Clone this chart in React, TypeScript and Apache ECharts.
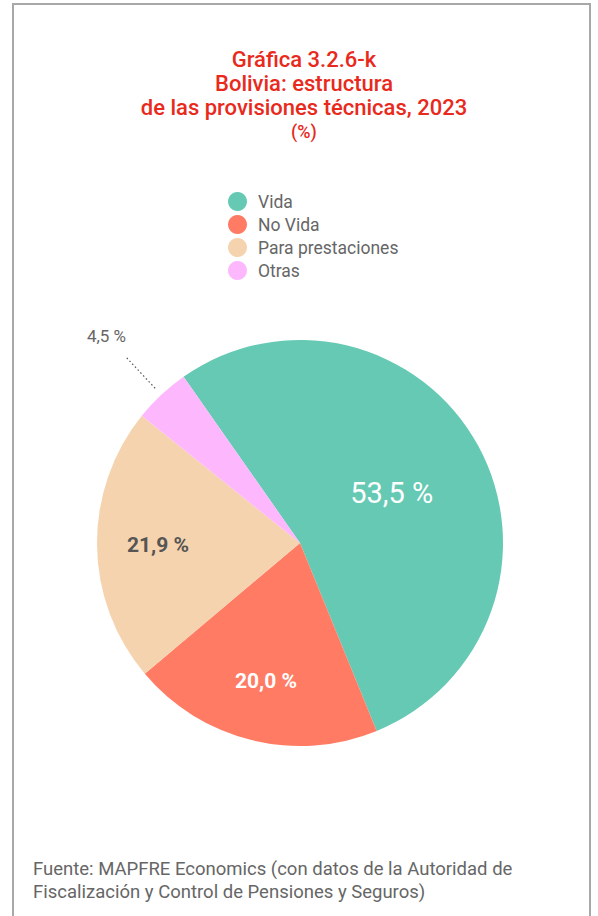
import React, { useEffect, useRef } from "react";
import * as echarts from "echarts";

const categories = ["Vida", "No Vida", "Para prestaciones", "Otras"];
const values = [53.5, 20.0, 21.9, 4.5];
const colors = ["#66C9B4", "#FF7B64", "#F5D3AE", "#FDB8FD"];
const titleLines = ["Gráfica 3.2.6-k", "Bolivia: estructura", "de las provisiones técnicas, 2023"];
const unitText = "(%)";
const sourceLines = [
  "Fuente: MAPFRE Economics (con datos de la Autoridad de",
  "Fiscalización y Control de Pensiones y Seguros)",
];

const fmt = (v: number) => v.toFixed(1).replace(".", ",") + " %";
const FONT = "Roboto";

export default function App() {
  const ref = useRef<HTMLDivElement>(null);
  useEffect(() => {
    document.body.style.margin = "0";
    const chart = echarts.init(ref.current!, null, { renderer: "svg" });

    const mainData = categories.map((name, i) => ({
      name,
      value: values[i],
      itemStyle: { color: colors[i] },
      label:
        i === 0
          ? { show: true, position: "inside", color: "#fff", fontSize: 29, fontFamily: FONT, formatter: () => fmt(values[i]) }
          : { show: false },
    }));

    const overlayData = categories.map((name, i) => {
      let label: any = { show: false };
      let labelLine: any = { show: false };
      if (i === 1) {
        label = { show: true, position: "inside", color: "#fff", fontSize: 21, fontWeight: "bold", fontFamily: FONT, formatter: () => fmt(values[i]) };
      } else if (i === 2) {
        label = { show: true, position: "inside", color: "#555", fontSize: 21, fontWeight: "bold", fontFamily: FONT, formatter: () => fmt(values[i]) };
      } else if (i === 3) {
        label = {
          show: true,
          position: "outside",
          color: "#666",
          fontSize: 17,
          fontFamily: FONT,
          lineHeight: 40,
          formatter: () => fmt(values[i]) + "\n",
          distanceToLabelLine: -1,
        };
        labelLine = { show: true, length: 44, length2: 0, lineStyle: { color: "#555", type: [1.5, 2.5], width: 1.2 } };
      }
      return { name, value: values[i], label, labelLine, itemStyle: { color: "rgba(0,0,0,0)" } };
    });

    chart.setOption({
      animation: false,
      title: {
        text: titleLines.join("\n"),
        subtext: unitText,
        left: 299,
        top: 42,
        textAlign: "center",
        itemGap: 1,
        textStyle: { color: "#E8291C", fontSize: 22, fontWeight: 500, fontFamily: FONT, lineHeight: 24 },
        subtextStyle: { color: "#E8291C", fontSize: 18, fontWeight: 500, fontFamily: FONT, lineHeight: 22 },
      },
      legend: {
        orient: "vertical",
        left: 228,
        top: 192,
        padding: 0,
        icon: "circle",
        itemWidth: 19,
        itemHeight: 19,
        itemGap: 4,
        selectedMode: false,
        data: categories,
        textStyle: { color: "#666", fontSize: 17.5, fontFamily: FONT, padding: [0, 0, 0, 6] },
      },
      graphic: [
        {
          type: "rect",
          shape: { x: 13, y: 4, width: 577, height: 940 },
          style: { fill: "none", stroke: "#a8a8a8", lineWidth: 2 },
          silent: true,
        },
        {
          type: "text",
          left: 33,
          top: 857,
          style: {
            text: sourceLines.join("\n"),
            fill: "#666",
            fontSize: 18.5,
            fontFamily: FONT,
            lineHeight: 23,
          },
        },
      ],
      series: [
        {
          type: "pie",
          center: [300, 543],
          radius: [0, 203],
          startAngle: 125,
          clockwise: true,
          avoidLabelOverlap: false,
          labelLine: { show: false },
          emphasis: { disabled: true },
          data: mainData,
        },
        {
          type: "pie",
          center: [300, 543],
          radius: [66, 212],
          startAngle: 125,
          clockwise: true,
          silent: true,
          avoidLabelOverlap: false,
          emphasis: { disabled: true },
          data: overlayData,
        },
      ],
    });
    return () => chart.dispose();
  }, []);
  return <div ref={ref} style={{ width: 598, height: 916 }} />;
}
